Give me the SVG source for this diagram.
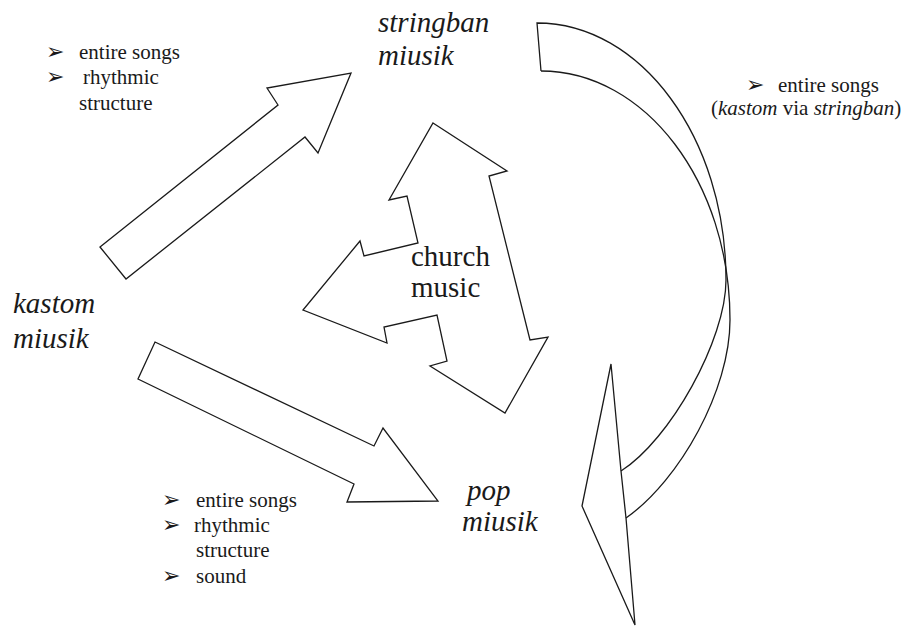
<svg xmlns="http://www.w3.org/2000/svg" width="905" height="627" viewBox="0 0 905 627">
<style>
.shape{fill:#fff;stroke:#1a1a1a;stroke-width:1.3;stroke-linejoin:miter}
.curve{fill:none;stroke:#1a1a1a;stroke-width:1.3}
.lbl{font-family:'Liberation Serif','DejaVu Serif',serif;font-style:italic;font-size:29px;fill:#1a1a1a}
.ch{font-family:'Liberation Serif','DejaVu Serif',serif;font-size:29px;fill:#1a1a1a}
.li{font-family:'Liberation Serif','DejaVu Serif',serif;font-size:21px;fill:#1a1a1a}
.it{font-style:italic}
.bu{font-family:'DejaVu Sans',sans-serif;font-size:22px;fill:#1a1a1a}
</style>
<rect width="905" height="627" fill="#fff"/>
<g id="connectors">
<polygon id="arrow-kastom-stringban" class="shape" points="100,247 278,105 267,88 351,73 318,153 305,137 126,279"/>
<polygon id="arrow-kastom-pop" class="shape" points="155,342 374,446 383,428 438,501 347,502 354,484 138,379"/>
<g id="arrow-stringban-pop">
<polygon class="shape" points="621,471 611,364 582,506 635,625 626,518"/>
<path class="curve" d="M541,71 L537,23 C641,23 726,138 726,280 C726,340 670,440 621,471"/>
<path class="curve" d="M541,71 C645,71 730,182 730,320 C730,390 680,480 626,518"/>
</g>
</g>
<g id="church">
<polygon class="shape" points="433,123 507,171 489,176 530,340 548,337 505,413 430,366 447,361 437,315 384,327 387,343 303,310 360,241 364,256 418,243 407,196 389,200"/>
<text class="ch" x="411" y="266">church</text>
<text class="ch" x="411" y="297">music</text>
</g>
<g id="stringban">
<text class="lbl" x="378" y="32">stringban</text>
<text class="lbl" x="378" y="65">miusik</text>
</g>
<g id="kastom">
<text class="lbl" x="13" y="313">kastom</text>
<text class="lbl" x="13" y="348">miusik</text>
</g>
<g id="pop">
<text class="lbl" x="467" y="500">pop</text>
<text class="lbl" x="462" y="531">miusik</text>
</g>
<g id="list-top-left">
<text class="bu" x="46" y="59">➢</text>
<text class="li" x="79" y="59">entire songs</text>
<text class="bu" x="46" y="84">➢</text>
<text class="li" x="83" y="84">rhythmic</text>
<text class="li" x="79" y="110">structure</text>
</g>
<g id="list-bottom-left">
<text class="bu" x="162" y="507">➢</text>
<text class="li" x="196" y="507">entire songs</text>
<text class="bu" x="162" y="532">➢</text>
<text class="li" x="194" y="532">rhythmic</text>
<text class="li" x="196" y="557">structure</text>
<text class="bu" x="162" y="583">➢</text>
<text class="li" x="196" y="583">sound</text>
</g>
<g id="list-right">
<text class="bu" x="746" y="92">➢</text>
<text class="li" x="778" y="92">entire songs</text>
<text class="li" x="711" y="115">(<tspan class="it">kastom</tspan> via <tspan class="it">stringban</tspan>)</text>
</g>
</svg>
